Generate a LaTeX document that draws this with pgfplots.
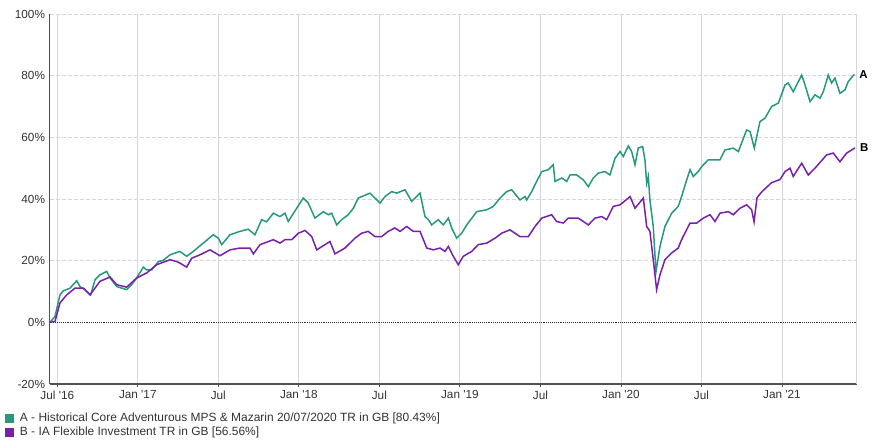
\documentclass[border=0pt]{standalone}
\usepackage{pgfplots}
\pgfplotsset{compat=1.18}
\usepackage{fontspec}
\setmainfont{Liberation Sans}

\definecolor{seriesA}{RGB}{38,152,128}
\definecolor{seriesB}{RGB}{120,32,168}
\definecolor{gridgray}{RGB}{214,214,214}
\definecolor{axisgray}{RGB}{80,80,80}

% x = months since 1 Jul 2016, y = cumulative total return in %
\pgfplotstableread{
m v
-0.54 0
-0.17 1.9
0.20 8.9
0.45 10.2
0.95 11.1
1.45 13.5
1.69 11.6
2.06 10.6
2.49 8.9
2.81 13.8
3.18 15.4
3.68 16.5
3.93 14.4
4.43 11.6
4.80 11.1
5.17 10.6
5.54 12.2
5.92 14.4
6.41 17.9
6.66 17.0
7.03 17.0
7.53 19.7
7.90 20.1
8.40 21.9
9.14 23.0
9.64 21.4
10.13 23.0
10.88 25.7
11.62 28.4
12.00 27.3
12.25 25.2
12.87 28.4
13.61 29.5
14.23 30.2
14.73 28.4
15.23 33.3
15.60 32.6
16.10 35.4
16.59 34.3
16.97 35.4
17.21 32.7
17.84 37.0
18.33 40.3
18.70 38.7
19.20 33.8
19.82 35.9
20.19 34.9
20.45 35.4
20.82 31.6
21.19 33.3
21.68 34.9
22.06 37.0
22.43 40.3
23.30 41.9
24.05 38.7
24.42 40.8
24.92 42.4
25.29 41.9
25.91 43.0
26.41 39.2
27.03 41.9
27.40 34.3
27.65 33.3
27.90 31.6
28.39 33.3
28.76 31.6
29.14 33.8
29.39 30.6
29.76 27.3
30.13 28.9
30.51 31.6
31.25 35.9
32.00 36.5
32.49 37.6
32.99 40.3
33.49 42.4
33.86 43.0
34.48 39.7
34.85 40.8
34.98 39.7
35.35 42.4
35.72 45.7
36.10 48.9
36.59 49.5
36.96 51.1
37.09 45.7
37.59 46.8
37.96 45.7
38.21 47.8
38.70 47.8
39.20 46.2
39.57 44.0
39.94 46.8
40.31 48.4
40.81 48.9
41.18 47.8
41.56 53.2
41.93 55.4
42.18 53.8
42.55 57.2
42.80 55.4
43.05 51.1
43.29 56.5
43.62 57.0
43.79 52.7
43.92 45.1
44.04 47.3
44.16 39.7
44.41 31.1
44.61 16.4
44.91 24.6
45.28 31.1
45.78 35.4
46.27 37.6
46.52 40.8
46.90 46.2
47.15 49.5
47.39 47.3
47.76 48.9
48.02 50.5
48.51 52.7
49.38 52.7
49.75 55.9
50.37 56.5
50.75 55.4
51.37 62.4
51.62 61.9
51.94 56.5
52.36 65.1
52.73 66.2
53.23 70.0
53.73 71.1
54.23 77.0
54.47 77.6
54.84 74.8
55.47 80.2
55.72 77.0
56.09 71.6
56.46 73.8
56.84 72.7
57.08 74.8
57.45 80.2
57.70 77.6
57.95 79.2
58.32 74.3
58.70 75.4
58.94 78.1
59.39 80.43
}\seriesAdata

\pgfplotstableread{
m v
-0.54 0
-0.17 0.3
0.20 6.3
0.70 8.9
1.32 11.1
1.94 11.1
2.44 8.9
3.18 13.3
3.93 14.7
4.43 12.2
5.17 11.4
5.92 14.4
6.66 16.0
7.41 18.7
8.40 20.3
8.90 19.7
9.14 19.2
9.64 17.9
10.01 20.8
10.63 21.9
11.38 23.5
12.12 21.6
12.87 23.5
13.61 24.1
14.36 24.1
14.61 22.2
15.11 25.2
16.10 26.8
16.59 25.7
16.97 26.8
17.47 26.8
17.96 28.9
18.46 29.8
18.96 27.8
19.33 23.5
19.95 25.2
20.32 26.2
20.69 22.2
21.44 24.1
22.18 27.3
22.68 28.9
23.17 29.5
23.67 27.8
24.17 27.8
24.66 29.5
25.16 30.6
25.54 29.5
26.04 31.1
26.53 29.5
27.03 29.5
27.53 24.1
28.02 23.5
28.52 24.1
28.89 23.0
29.14 24.6
29.51 21.4
29.88 18.7
30.25 21.4
30.88 23.0
31.37 25.2
32.00 25.7
32.62 27.3
33.11 28.9
33.73 30.0
34.11 28.9
34.48 27.8
35.10 27.8
35.60 31.1
36.10 33.8
36.84 34.9
37.21 32.7
37.71 32.2
38.08 33.8
38.82 33.8
39.57 31.6
40.07 33.8
40.57 34.3
40.94 33.3
41.43 37.6
41.93 38.1
42.55 40.3
42.68 40.8
43.05 37.0
43.67 40.3
43.92 31.1
44.16 29.5
44.41 20.3
44.66 10.6
44.91 15.4
45.28 20.3
45.78 22.5
46.27 24.1
46.52 26.8
47.15 32.2
47.65 32.2
48.14 33.8
48.64 34.9
49.01 32.7
49.38 35.4
50.00 35.9
50.37 34.9
50.87 37.0
51.37 38.1
51.74 36.5
51.92 32.6
52.14 40.4
52.51 42.4
53.23 45.3
53.85 46.3
54.23 48.9
54.60 50.0
54.84 47.3
55.47 51.6
55.96 47.8
56.46 50.0
57.33 54.3
57.82 54.9
58.32 52.1
58.82 54.9
59.44 56.56
}\seriesBdata

\begin{document}
\begin{tikzpicture}
\useasboundingbox (0bp,0bp) rectangle (873bp,443bp);
\begin{axis}[
  at={(49.5bp,59bp)}, anchor=south west,
  scale only axis,
  width=807.2bp, height=370bp,
  xmin=-0.58, xmax=59.57,
  ymin=-20, ymax=100,
  axis x line*=bottom, axis y line*=left,
  x axis line style={axisgray, line width=1.2bp},
  y axis line style={axisgray, line width=1.8bp},
  xtick={0,6,...,54},
  xticklabels={Jul \textquotesingle16, Jan \textquotesingle17, Jul, Jan \textquotesingle18, Jul, Jan \textquotesingle19, Jul, Jan \textquotesingle20, Jul, Jan \textquotesingle21},
  ytick={-20,20,40,60,80,100},
  yticklabels={-20\%,20\%,40\%,60\%,80\%,100\%},
  extra y ticks={0},
  extra y tick labels={0\%},
  extra y tick style={ymajorgrids=false},
  extra x ticks={59.57},
  extra x tick labels={},
  extra x tick style={major tick length=0pt, grid style={gridgray, line width=0.8bp}},
  xmajorgrids, ymajorgrids,
  x grid style={gridgray, line width=0.8bp},
  y grid style={gridgray, line width=0.8bp, dash pattern=on 4bp off 2bp},
  xtick align=outside,
  major tick length=3bp,
  xtick style={axisgray, line width=0.8bp},
  ytick style={draw=none},
  tick label style={font=\fontsize{11.8}{14}\selectfont, text=black!80},
  yticklabel style={xshift=-1bp},
  legend style={at={(0,0)}, anchor=north west, xshift=-44.5bp, yshift=-26.5bp,
    draw=none, fill=none, inner sep=0pt, row sep=0.5bp,
    font=\fontsize{12}{14}\selectfont, text=black!80,
    cells={anchor=west}},
  legend image code/.code={\fill[#1] (0bp,-4bp) rectangle (7.5bp,3.5bp);
    \path[draw=none, fill=none] (0bp,0bp) rectangle (12bp,0.1bp);},
  clip=false,
]
\addplot[black!80, densely dotted, line width=0.9bp, forget plot] coordinates {(-0.58,0) (59.57,0)};
\addplot[seriesA, line width=1.5bp] table[x=m, y=v] {\seriesAdata}
  node[pos=1, anchor=west, xshift=1bp, text=black, font=\bfseries\fontsize{11.5}{13}\selectfont] {A};
\addlegendentry{A - Historical Core Adventurous MPS \& Mazarin 20/07/2020 TR in GB [80.43\%]}
\addplot[seriesB, line width=1.5bp] table[x=m, y=v] {\seriesBdata}
  node[pos=1, anchor=west, xshift=1bp, text=black, font=\bfseries\fontsize{11.5}{13}\selectfont] {B};
\addlegendentry{B - IA Flexible Investment TR in GB [56.56\%]}
\end{axis}
\end{tikzpicture}
\end{document}
